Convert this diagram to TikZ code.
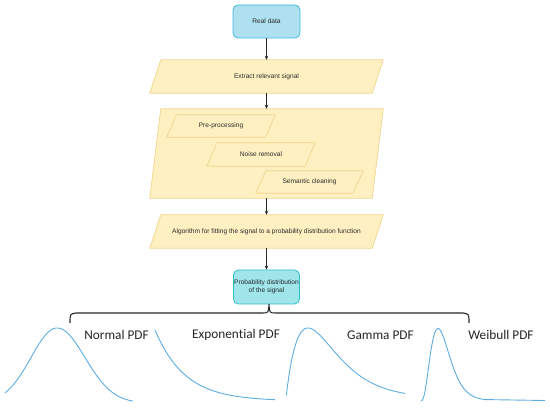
\documentclass[tikz,border=0pt]{standalone}
\usepackage{fontspec}
\setmainfont{Liberation Sans}
\newfontfamily\calib[Ligatures=NoCommon]{Carlito}
\usetikzlibrary{arrows.meta,backgrounds}
\definecolor{bluefill}{HTML}{AEE0F0}
\definecolor{bluedraw}{HTML}{3DB8DC}
\definecolor{tealfill}{HTML}{9FE5EA}
\definecolor{tealdraw}{HTML}{2FBFC8}
\definecolor{yelfill}{HTML}{FFF0C2}
\definecolor{yeldraw}{HTML}{F2D48A}
\definecolor{curve}{HTML}{5DADE2}
\definecolor{txt}{HTML}{2A2A2A}
\begin{document}
\begin{tikzpicture}[x=1pt,y=-1pt,
  small/.style={font=\fontsize{6.6}{7.8}\selectfont, text=txt, align=center},
  roundbox/.style={small, draw, line width=0.8pt, rounded corners=5pt, inner sep=0pt},
  parabox/.style={small, inner sep=0pt},
  para/.style={fill=yelfill, draw=yeldraw, line width=0.7pt},
  arr/.style={draw=txt, line width=0.6pt, -{Stealth[length=4pt,width=3.5pt]}},
  pdflabel/.style={font=\calib\fontsize{13.3}{15}\selectfont, text=black!85, inner sep=0pt},
  pdfcurve/.style={draw=curve, line width=0.9pt},
  brace/.style={draw=black!85, line width=1.1pt}]
\useasboundingbox (0,0) rectangle (550,409);

% main flow nodes
\node[roundbox, fill=bluefill, draw=bluedraw, minimum width=67pt, minimum height=33pt] (real) at (266.5,21.5) {Real data};
\node[parabox, minimum width=233pt, minimum height=33pt] (extract) at (266.5,76.5) {Extract relevant signal};
\node[parabox, minimum width=233pt, minimum height=89pt] (prep) at (266.5,153.5) {};
\node[parabox, minimum width=108pt, minimum height=22pt] (pre) at (221,126) {Pre-processing};
\node[parabox, minimum width=108pt, minimum height=23pt] (noise) at (261,154.5) {Noise removal};
\node[parabox, minimum width=107pt, minimum height=22pt] (sem) at (309.5,182) {Semantic cleaning};
\node[parabox, minimum width=233pt, minimum height=33pt] (algo) at (266.5,231.5) {Algorithm for fitting the signal to a probability distribution function};
\node[roundbox, fill=tealfill, draw=tealdraw, minimum width=66pt, minimum height=34pt] (prob) at (266.5,287) {Probability distribution\\of the signal};

\begin{scope}[on background layer]
  \draw[para] ([xshift=11pt]extract.north west) -- (extract.north east) -- ([xshift=-11pt]extract.south east) -- (extract.south west) -- cycle;
  \draw[para] ([xshift=11pt]prep.north west) -- (prep.north east) -- ([xshift=-11pt]prep.south east) -- (prep.south west) -- cycle;
  \draw[para] ([xshift=9.5pt]pre.north west) -- (pre.north east) -- ([xshift=-9.5pt]pre.south east) -- (pre.south west) -- cycle;
  \draw[para] ([xshift=10pt]noise.north west) -- (noise.north east) -- ([xshift=-10pt]noise.south east) -- (noise.south west) -- cycle;
  \draw[para] ([xshift=10pt]sem.north west) -- (sem.north east) -- ([xshift=-10pt]sem.south east) -- (sem.south west) -- cycle;
  \draw[para] ([xshift=11pt]algo.north west) -- (algo.north east) -- ([xshift=-11pt]algo.south east) -- (algo.south west) -- cycle;
\end{scope}

% connectors
\draw[arr] (real) -- (extract);
\draw[arr] (extract) -- (prep);
\draw[arr] (prep) -- (algo);
\draw[arr] (algo) -- (prob);

% brace
\coordinate (nub) at (269,304);
\coordinate (bl) at (70,323);
\coordinate (br) at (469,323);
\draw[brace] (bl) .. controls (70,314) .. (76,313) -- (262,313) .. controls (268.5,313) .. (nub)
  .. controls (269.5,313) .. (276,313) -- (463,313) .. controls (469,314) .. (br);

% labels
\node[pdflabel] (lnormal) at (116.5,335) {Normal PDF};
\node[pdflabel] (lexp) at (236,335) {Exponential PDF};
\node[pdflabel] (lgamma) at (380.5,335) {Gamma PDF};
\node[pdflabel] (lweib) at (501,335) {Weibull PDF};

% curves
\draw[pdfcurve] plot[domain=5:57, samples=50, smooth] (\x, {403-75*exp(-((\x-57)/26)^2/2)})
  -- plot[domain=57:133, samples=60, smooth] (\x, {403-75*exp(-((\x-57)/28)^2/2)});
\draw[pdfcurve] plot[domain=155:275, samples=60, smooth] (\x, {401-71*exp(-(\x-155)/30)});
\draw[pdfcurve] plot[domain=286.3:405, samples=90, smooth] (\x, {398-70*((\x-286)/22)*exp(1-(\x-286)/22)});
\draw[pdfcurve] plot[domain=421:485, samples=80, smooth] (\x, {400.5-72*((\x-421)/17)^3*exp(3*(1-(\x-421)/17))}) -- (545,400.5);
\end{tikzpicture}
\end{document}
